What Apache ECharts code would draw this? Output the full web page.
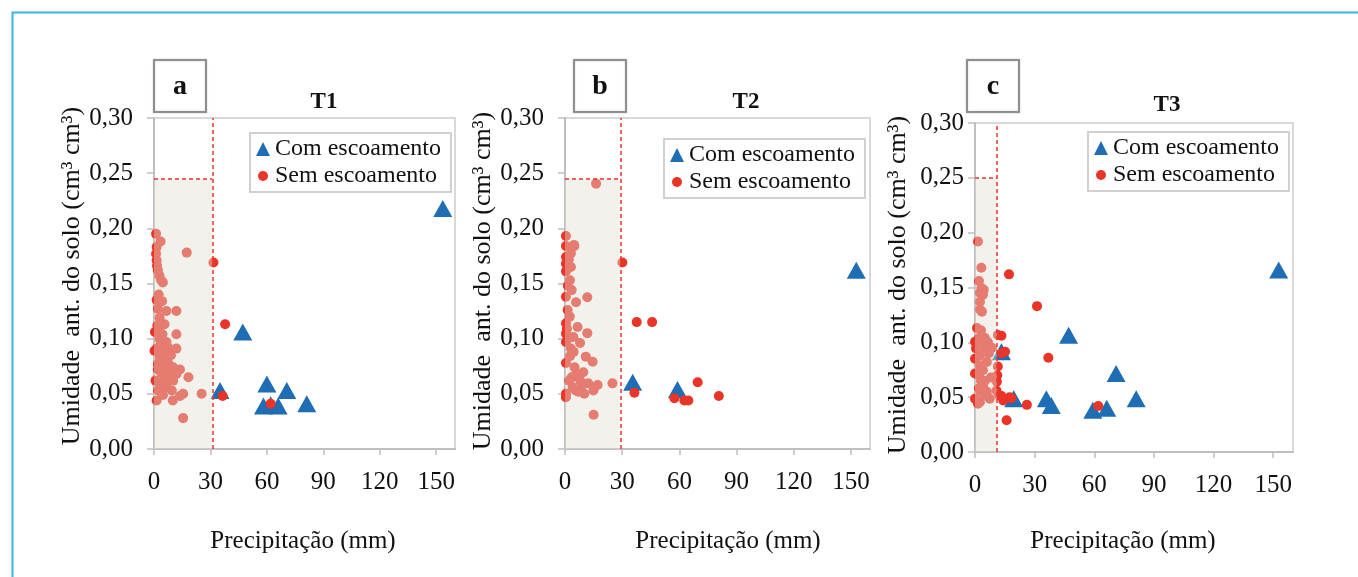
<!DOCTYPE html>
<html>
<head>
<meta charset="utf-8">
<title>Umidade antecedente x precipitação</title>
<script src="https://cdn.jsdelivr.net/npm/echarts@6/dist/echarts.min.js"></script>
<style>
html, body { margin: 0; padding: 0; background: #fff; }
#chart { width: 1358px; height: 577px; }
</style>
</head>
<body>
<div id="chart"></div>
<script>
/* dados: [precipitacao (mm), umidade ant. (cm3 cm-3)] */
var xTicks = [0, 30, 60, 90, 120, 150];
var nomeCom = 'Com escoamento';
var nomeSem = 'Sem escoamento';
var titulos = ['T1', 'T2', 'T3'];
var letras = ['a', 'b', 'c'];
var limiteChuva = [31, 29, 11];          // linha vertical tracejada
var limiteUmidade = [0.245, 0.245, 0.25]; // linha horizontal tracejada

var t1Com = [[153.5, 0.218], [47.2, 0.106], [35.1, 0.053], [60, 0.059], [70.6, 0.053],
  [81.2, 0.041], [58.2, 0.039], [66, 0.039], [62, 0.040]];
var t1Sem = [[1.1, 0.195], [3.5, 0.188], [1.4, 0.183], [17.4, 0.178], [1.1, 0.177], [1.4, 0.171],
  [1.6, 0.166], [2.1, 0.162], [2.9, 0.157], [4.7, 0.151], [3.8, 0.153], [1.4, 0.135], [4.3, 0.134],
  [2.1, 0.127], [6.6, 0.125], [11.9, 0.125], [3.0, 0.119], [5.6, 0.113], [2.7, 0.107], [0.5, 0.106],
  [11.9, 0.104], [2.9, 0.100], [6.6, 0.097], [1.4, 0.091], [11.9, 0.091], [7.5, 0.092], [0.3, 0.089],
  [2.9, 0.086], [4.7, 0.082], [7.5, 0.078], [2.1, 0.077], [10.2, 0.074], [13.8, 0.072], [3.9, 0.069],
  [8.4, 0.068], [18.3, 0.065], [5.6, 0.063], [2.9, 0.060], [10.2, 0.062], [6.6, 0.056], [2.1, 0.053],
  [15.5, 0.050], [25.3, 0.050], [13.8, 0.048], [1.4, 0.044], [10.0, 0.044], [15.5, 0.028],
  [5.0, 0.072], [6.0, 0.079], [8.0, 0.070], [4.0, 0.058], [9.0, 0.085], [3.5, 0.095], [7.0, 0.065],
  [12.0, 0.068], [5.2, 0.088], [2.5, 0.140], [1.8, 0.112], [4.5, 0.104], [3.2, 0.082], [6.5, 0.060],
  [9.5, 0.053], [4.8, 0.049], [0.8, 0.062], [2.0, 0.072],
  [31.6, 0.169], [37.8, 0.113], [36.5, 0.048], [62, 0.041]];

var t2Com = [[152.8, 0.162], [35.5, 0.0605], [59, 0.054]];
var t2Sem = [[16.3, 0.2405], [0.5, 0.193], [0.5, 0.184], [4.9, 0.184], [3.1, 0.1775], [0.5, 0.174],
  [0.5, 0.168], [3.1, 0.165], [0.5, 0.161], [2.6, 0.153], [3.5, 0.144], [0.5, 0.138], [11.7, 0.1375],
  [5.8, 0.133], [1.4, 0.126], [0.5, 0.114], [6.6, 0.1106], [0.5, 0.1046], [11.7, 0.105], [4.4, 0.1015],
  [0.5, 0.097], [7.9, 0.096], [3.1, 0.091], [2.6, 0.084], [10.9, 0.0837], [14.5, 0.079], [0.5, 0.078],
  [9.6, 0.0696], [3.5, 0.065], [7.9, 0.062], [12.2, 0.0595], [24.9, 0.0595], [17.1, 0.058], [14.9, 0.053],
  [5.6, 0.053], [0.5, 0.050], [10.1, 0.050], [4.0, 0.056], [15.0, 0.031], [0.5, 0.047], [4.7, 0.185],
  [2.0, 0.172], [1.5, 0.148], [2.5, 0.120], [1.0, 0.109], [4.5, 0.088], [6.0, 0.068], [9.0, 0.058],
  [2.2, 0.062], [5.0, 0.074], [1.5, 0.100], [7.0, 0.052],
  [30.1, 0.169], [37.6, 0.115], [45.7, 0.115], [36.4, 0.051], [57.4, 0.046], [62.6, 0.044],
  [64.7, 0.044], [69.6, 0.0605], [80.7, 0.048]];

var t3Com = [[152.8, 0.166], [47.1, 0.1065], [71, 0.0715], [81.1, 0.0485], [35.9, 0.0485],
  [38.4, 0.0425], [59.3, 0.038], [66.3, 0.040], [13.3, 0.0915], [19.5, 0.0485]];
var t3Sem = [[1.5, 0.192], [3.2, 0.168], [2.0, 0.156], [2.5, 0.145], [4.4, 0.148], [3.2, 0.1495],
  [4.0, 0.1434], [2.5, 0.137], [2.5, 0.130], [3.5, 0.128], [1.0, 0.113], [3.0, 0.111], [2.0, 0.104],
  [5.0, 0.104], [0.5, 0.0945], [5.0, 0.0945], [2.5, 0.088], [6.0, 0.082], [2.5, 0.079], [4.0, 0.0746],
  [2.0, 0.070], [5.0, 0.065], [2.0, 0.058], [2.5, 0.056], [4.5, 0.052], [7.4, 0.0486], [2.5, 0.0456],
  [1.5, 0.044], [0, 0.1006], [0, 0.085], [0, 0.0716], [0, 0.0486], [3.5, 0.098], [6.5, 0.100],
  [7.0, 0.090], [8.5, 0.095], [4.0, 0.060], [6.0, 0.055], [8.0, 0.068], [3.0, 0.065],
  [17.1, 0.162], [31.2, 0.133], [36.9, 0.086], [13.3, 0.106], [15.1, 0.0915], [13.5, 0.090],
  [17.4, 0.050], [13.3, 0.051], [14.2, 0.047], [26.1, 0.043], [15.9, 0.029], [62, 0.042],
  [11.5, 0.078], [11.2, 0.070], [11.0, 0.064], [10.8, 0.056], [12.0, 0.052], [18.3, 0.049], [11.5, 0.1067]];

var dadosCom = [t1Com, t2Com, t3Com];
var dadosSem = [t1Sem, t2Sem, t3Sem];

// posicao de cada painel (px)
var paineis = [
  { grid: [154, 118, 301, 331], titulo: [324, 102], caixa: [154, 60], leg: [250, 133], yNome: [72, 276], xNome: 303, yMargem: 21 },
  { grid: [565, 118, 305, 331], titulo: [746, 102], caixa: [574, 60], leg: [664, 139], yNome: [483, 281], xNome: 728, yMargem: 21 },
  { grid: [975, 123, 318, 329], titulo: [1167, 105], caixa: [967, 60], leg: [1088, 132], yNome: [898, 285], xNome: 1123, yMargem: 11 }
];

var serif = "'Liberation Serif', 'Times New Roman', serif";
var corAzul = '#1f6db4';
var corVermelho = '#ea3428';
var corEixo = '#bfbfbf';
var circulo = 'path://M0,0M14,14M2,7a5,5 0 1,0 10,0a5,5 0 1,0 -10,0z';

var chart = echarts.init(document.getElementById('chart'));

var grids = [], xAxes = [], yAxes = [], series = [], legends = [], graphics = [];

graphics.push({
  type: 'rect', left: 10, top: 10, silent: true,
  shape: { width: 1400, height: 600 },
  style: { fill: 'none', stroke: '#3cb4e2', lineWidth: 2 }
});

paineis.forEach(function (p, i) {
  grids.push({
    left: p.grid[0], top: p.grid[1], width: p.grid[2], height: p.grid[3],
    show: true, borderColor: '#d9d9d9', borderWidth: 2, backgroundColor: 'transparent'
  });
  xAxes.push({
    gridIndex: i, type: 'value', min: 0, max: 160, interval: 30,
    axisLine: { show: true, onZero: false, lineStyle: { color: corEixo, width: 2 } },
    axisTick: { show: true, length: 6, customValues: xTicks, lineStyle: { color: corEixo, width: 1.5 } },
    axisLabel: { customValues: xTicks, margin: 21, fontSize: 25, fontFamily: serif, color: '#111' },
    splitLine: { show: false }
  });
  yAxes.push({
    gridIndex: i, type: 'value', min: 0, max: 0.3, interval: 0.05,
    axisLine: { show: true, onZero: false, lineStyle: { color: corEixo, width: 2 } },
    axisTick: { show: true, length: 7, lineStyle: { color: corEixo, width: 1.5 } },
    axisLabel: {
      margin: p.yMargem, fontSize: 25, fontFamily: serif, color: '#111',
      formatter: function (v) { return v.toFixed(2).replace('.', ','); }
    },
    splitLine: { show: false }
  });
  series.push({
    name: nomeCom, type: 'scatter', xAxisIndex: i, yAxisIndex: i,
    symbol: 'triangle', symbolSize: [19, 17], data: dadosCom[i],
    itemStyle: { color: corAzul, opacity: 1 }
  });
  series.push({
    name: nomeSem, type: 'scatter', xAxisIndex: i, yAxisIndex: i,
    symbol: 'circle', symbolSize: 10, data: dadosSem[i],
    itemStyle: { color: corVermelho, opacity: 1 }
  });
  // area sombreada e linhas tracejadas por cima dos pontos
  series.push({
    type: 'scatter', xAxisIndex: i, yAxisIndex: i, data: [], silent: true,
    markArea: {
      z: 3, silent: true,
      itemStyle: { color: 'rgba(224,221,209,0.42)' },
      data: [[{ coord: [0, 0] }, { coord: [limiteChuva[i], limiteUmidade[i]] }]]
    },
    markLine: {
      z: 4, silent: true, symbol: 'none', label: { show: false },
      lineStyle: { color: corVermelho, type: [4, 3], width: 1.5 },
      data: [
        [{ coord: [limiteChuva[i], 0] }, { coord: [limiteChuva[i], 0.3] }],
        [{ coord: [0, limiteUmidade[i]] }, { coord: [limiteChuva[i], limiteUmidade[i]] }]
      ]
    }
  });
  legends.push({
    left: p.leg[0], top: p.leg[1], orient: 'vertical',
    padding: [4, 10, 4, 6], itemGap: 3, itemWidth: 14, itemHeight: 14,
    borderColor: '#d0d0d0', borderWidth: 2, selectedMode: false,
    textStyle: { fontSize: 24, fontFamily: serif, color: '#111', lineHeight: 24 },
    data: [{ name: nomeCom, icon: 'triangle' }, { name: nomeSem, icon: circulo }]
  });

  graphics.push({
    type: 'text', x: p.titulo[0], y: p.titulo[1], silent: true,
    style: { text: titulos[i], font: 'bold 23px ' + serif, fill: '#111', align: 'center', verticalAlign: 'middle' }
  });
  graphics.push({
    type: 'rect', x: p.caixa[0], y: p.caixa[1], silent: true,
    shape: { width: 52, height: 52 },
    style: { fill: '#fff', stroke: '#8f8f8f', lineWidth: 2, shadowBlur: 2, shadowColor: 'rgba(0,0,0,0.2)' }
  });
  graphics.push({
    type: 'text', x: p.caixa[0] + 26, y: p.caixa[1] + 27, silent: true,
    style: { text: letras[i], font: 'bold 28px ' + serif, fill: '#111', align: 'center', verticalAlign: 'middle' }
  });
  graphics.push({
    type: 'text', x: p.xNome, y: 541, silent: true,
    style: { text: 'Precipitação (mm)', font: '25px ' + serif, fill: '#111', align: 'center', verticalAlign: 'middle' }
  });
  graphics.push({
    type: 'text', x: p.yNome[0], y: p.yNome[1], rotation: Math.PI / 2, silent: true,
    style: { text: 'Umidade  ant. do solo (cm³ cm³)', font: '26px ' + serif, fill: '#111', align: 'center', verticalAlign: 'middle' }
  });
});

chart.setOption({
  backgroundColor: '#fff',
  animation: false,
  grid: grids,
  xAxis: xAxes,
  yAxis: yAxes,
  legend: legends,
  series: series,
  graphic: graphics
});
</script>
</body>
</html>
